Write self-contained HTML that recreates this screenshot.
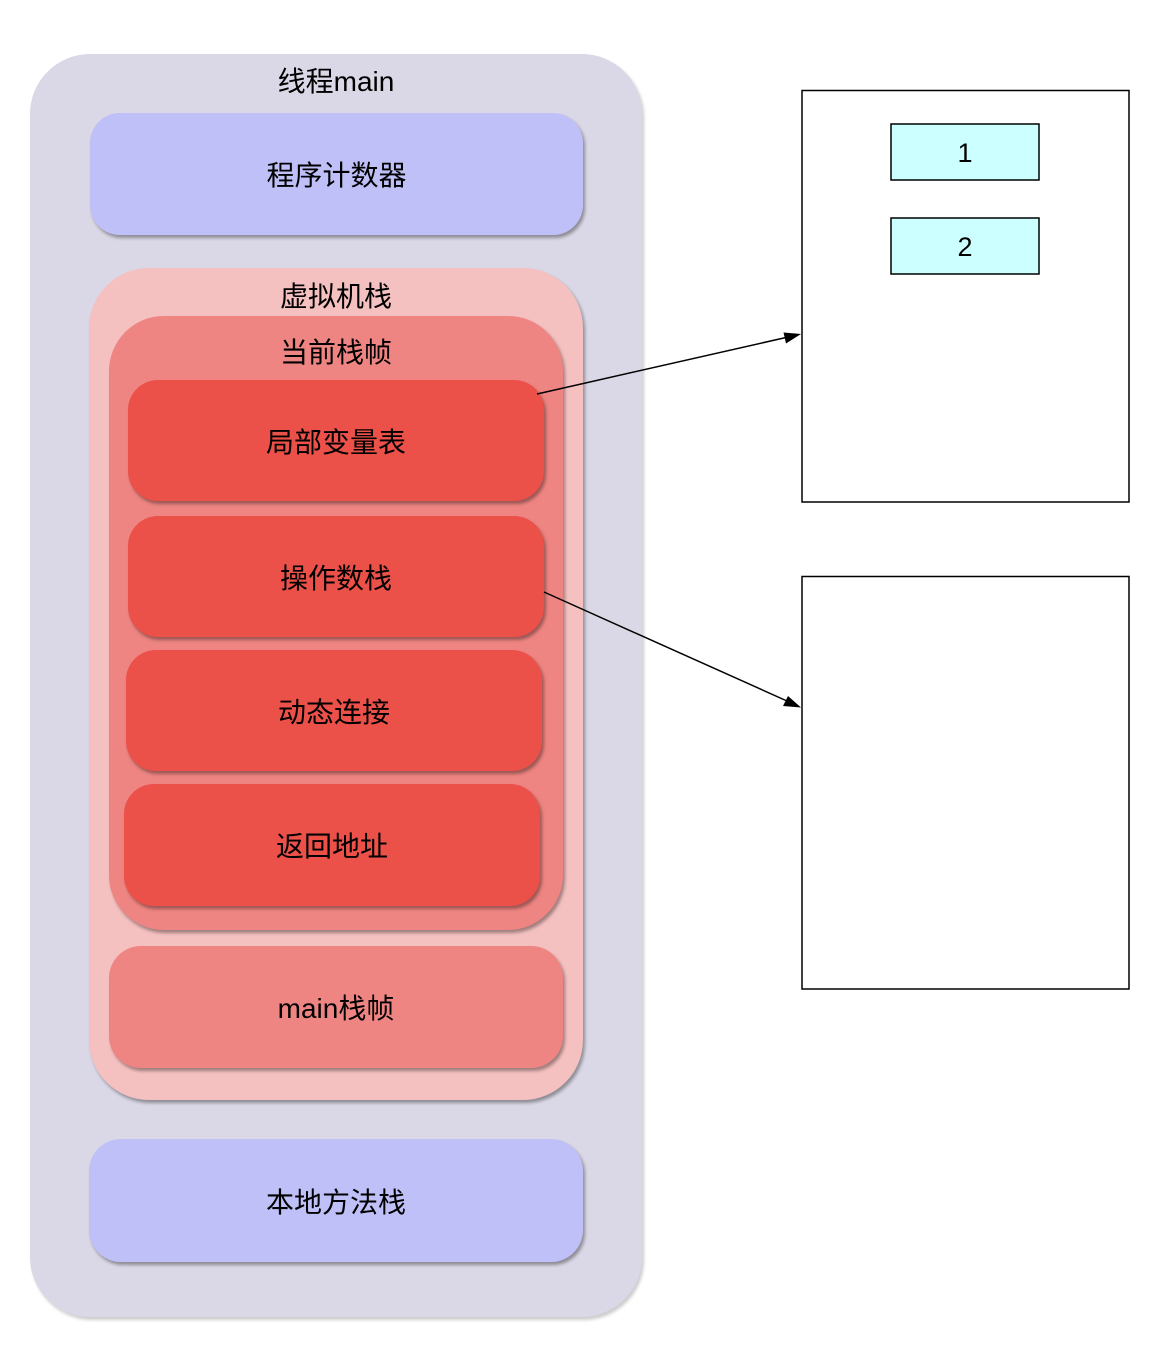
<!DOCTYPE html>
<html>
<head>
<meta charset="utf-8">
<style>
html,body{margin:0;padding:0;background:#fff;}
body{width:1162px;height:1345px;position:relative;overflow:hidden;font-family:"Liberation Sans","Noto Sans CJK SC",sans-serif;color:#000;}
.b{position:absolute;box-sizing:border-box;display:flex;align-items:center;justify-content:center;font-size:28px;box-shadow:2px 3px 3px rgba(0,0,0,0.35);}
.t{position:absolute;left:0;width:100%;text-align:center;font-size:28px;line-height:34px;}
svg{position:absolute;left:0;top:0;}
</style>
</head>
<body>
<!-- outer thread box -->
<div class="b" style="left:30px;top:54px;width:612px;height:1263px;border-radius:60px;background:#DAD8E6;box-shadow:2px 3px 3px rgba(0,0,0,0.2);"></div>
<div class="t" style="left:30px;width:612px;top:65px;">线程main</div>

<!-- program counter -->
<div class="b" style="left:90px;top:113px;width:493px;height:122px;border-radius:30px;background:#BFC0F8;">程序计数器</div>

<!-- VM stack -->
<div class="b" style="left:89px;top:268px;width:494px;height:832px;border-radius:60px;background:#F5C1C0;"></div>
<div class="t" style="left:89px;width:494px;top:280px;">虚拟机栈</div>

<!-- current frame -->
<div class="b" style="left:109px;top:316px;width:454px;height:614px;border-radius:55px;background:#EF8582;"></div>
<div class="t" style="left:109px;width:454px;top:336px;">当前栈帧</div>

<div class="b" style="left:128px;top:380px;width:416px;height:121px;border-radius:30px;background:#EB5049;">局部变量表</div>
<div class="b" style="left:128px;top:516px;width:416px;height:121px;border-radius:30px;background:#EB5049;">操作数栈</div>
<div class="b" style="left:126px;top:650px;width:416px;height:121px;border-radius:30px;background:#EB5049;">动态连接</div>
<div class="b" style="left:124px;top:784px;width:416px;height:122px;border-radius:30px;background:#EB5049;">返回地址</div>

<!-- main frame -->
<div class="b" style="left:109px;top:946px;width:454px;height:122px;border-radius:32px;background:#EF8582;">main栈帧</div>

<!-- native method stack -->
<div class="b" style="left:89px;top:1139px;width:494px;height:123px;border-radius:32px;background:#BFC0F8;">本地方法栈</div>

<svg width="1162" height="1345" viewBox="0 0 1162 1345">
  <rect x="802" y="90.5" width="327" height="411.5" fill="#fff" stroke="#000" stroke-width="1.5"/>
  <rect x="802" y="576.5" width="327" height="412.5" fill="#fff" stroke="#000" stroke-width="1.5"/>
  <rect x="891" y="124" width="148" height="56" fill="#CCFFFF" stroke="#000" stroke-width="1.5"/>
  <rect x="891" y="218" width="148" height="56" fill="#CCFFFF" stroke="#000" stroke-width="1.5"/>
  <text x="965" y="162" text-anchor="middle" font-family="Liberation Sans, sans-serif" font-size="27">1</text>
  <text x="965" y="256" text-anchor="middle" font-family="Liberation Sans, sans-serif" font-size="27">2</text>
  <!-- arrow 1 -->
  <line x1="537" y1="394" x2="786" y2="337.5" stroke="#000" stroke-width="1.5"/>
  <polygon points="801,334 783.5,332.5 786,343.5" fill="#000"/>
  <!-- arrow 2 -->
  <line x1="544" y1="592" x2="787" y2="701" stroke="#000" stroke-width="1.5"/>
  <polygon points="801,707.5 783,706 788,696" fill="#000"/>
</svg>
</body>
</html>
